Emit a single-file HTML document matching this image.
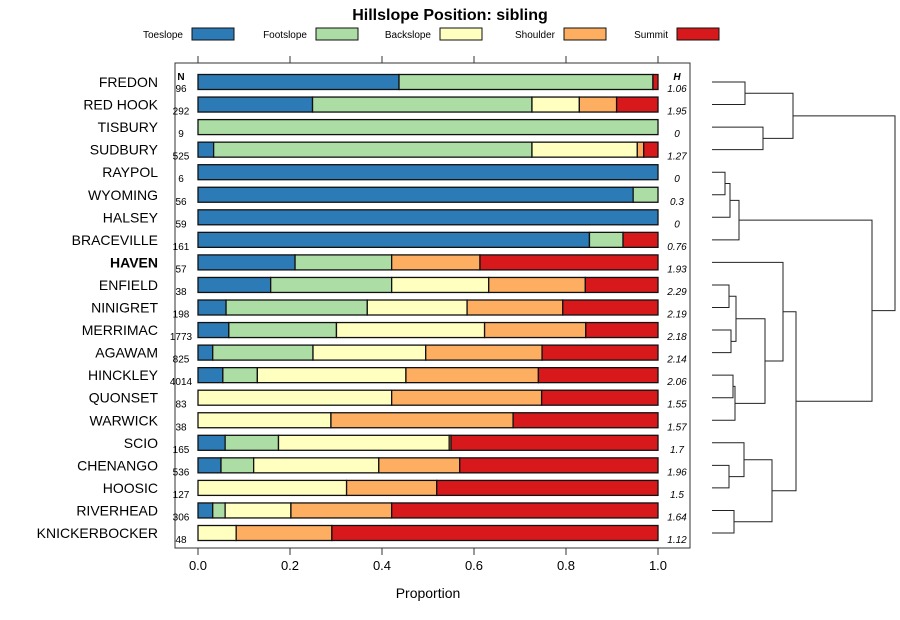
<!DOCTYPE html>
<html><head><meta charset="utf-8"><style>
body{margin:0;background:#fff;}
svg{display:block;font-family:"Liberation Sans",sans-serif;}
</style></head><body>
<svg id="c" width="900" height="620" xmlns="http://www.w3.org/2000/svg">
<text x="450" y="20" text-anchor="middle" font-size="16" font-weight="bold">Hillslope Position: sibling</text>
<g id="legend"></g>
<rect x="175" y="63" width="515" height="485" fill="none" stroke="#333" stroke-width="1"/>
<g id="bars"></g>
<g id="axis"></g>
<text x="428" y="598" text-anchor="middle" font-size="14">Proportion</text>
<text x="181" y="80" text-anchor="middle" font-size="10" font-weight="bold">N</text>
<text x="677" y="80" text-anchor="middle" font-size="10" font-weight="bold" font-style="italic">H</text>
<g id="dend"></g>
</svg>
<script>
const series = ["Toeslope","Footslope","Backslope","Shoulder","Summit"];
const colors = ["#2C7BB6","#ABDDA4","#FFFFBF","#FDAE61","#D7191C"];
const names = ["FREDON","RED HOOK","TISBURY","SUDBURY","RAYPOL","WYOMING","HALSEY","BRACEVILLE","HAVEN","ENFIELD","NINIGRET","MERRIMAC","AGAWAM","HINCKLEY","QUONSET","WARWICK","SCIO","CHENANGO","HOOSIC","RIVERHEAD","KNICKERBOCKER"];
const nVals = [96,292,9,525,6,56,59,161,57,38,198,1773,825,4014,83,38,165,536,127,306,48];
const hVals = ["1.06","1.95","0","1.27","0","0.3","0","0.76","1.93","2.29","2.19","2.18","2.14","2.06","1.55","1.57","1.7","1.96","1.5","1.64","1.12"];
const toeslope = [0.437,0.249,0,0.034,1,0.946,1,0.851,0.211,0.158,0.061,0.067,0.032,0.054,0,0,0.059,0.05,0,0.032,0];
const footslope = [0.552,0.477,1,0.692,0,0.054,0,0.073,0.21,0.263,0.307,0.234,0.218,0.075,0,0,0.116,0.071,0,0.027,0];
const backslope = [0,0.103,0,0.229,0,0,0,0,0,0.211,0.217,0.322,0.245,0.323,0.421,0.289,0.371,0.272,0.323,0.143,0.083];
const shoulder = [0,0.081,0,0.014,0,0,0,0,0.192,0.21,0.208,0.22,0.253,0.288,0.326,0.396,0.004,0.176,0.196,0.219,0.208];
const summit = [0.011,0.09,0,0.031,0,0,0,0.076,0.387,0.158,0.207,0.157,0.252,0.26,0.253,0.315,0.45,0.431,0.481,0.579,0.709];
const ticks = [0,0.2,0.4,0.6,0.8,1.0];
const tickLabels = ["0.0","0.2","0.4","0.6","0.8","1.0"];
// dendrogram merges: [left, right, height] ; leaf ids 0..20, cluster ids start at 21
const merges = [[0,1,0.33],[2,3,0.51],[21,22,0.81],[4,5,0.13],[24,6,0.18],[25,7,0.27],[9,10,0.17],[11,12,0.19],[27,28,0.24],[13,14,0.21],[30,15,0.23],[29,31,0.53],[8,32,0.71],[17,18,0.17],[16,34,0.32],[19,20,0.22],[35,36,0.60],[33,37,0.84],[26,38,1.60],[23,39,1.83]];

const NS="http://www.w3.org/2000/svg";
function el(tag,attrs,parent){const e=document.createElementNS(NS,tag);for(const k in attrs)e.setAttribute(k,attrs[k]);parent.appendChild(e);return e;}
const x = v => 198 + v*460;
const y = i => 82 + i*22.55;
const dx = h => 712 + h*100;
const bars=document.getElementById('bars');
const data=[toeslope,footslope,backslope,shoulder,summit];
names.forEach((nm,i)=>{
  const t=el('text',{x:158,y:y(i)+5,'text-anchor':'end','font-size':14,'font-weight':nm==="HAVEN"?'bold':'normal'},bars);
  t.textContent=nm;
  
  
  const n=el('text',{x:181,y:y(i)+10,'text-anchor':'middle','font-size':10},bars);
  n.textContent=nVals[i];
  
  
  const h=el('text',{x:677,y:y(i)+10,'text-anchor':'middle','font-size':10,'font-style':'italic'},bars);
  h.textContent=hVals[i];
  
  
  let cum=0;
  data.forEach((arr,s)=>{
    const v=arr[i]; if(v<=0){return;}
    const r=el('rect',{x:x(cum),y:y(i)-7.5,width:x(cum+v)-x(cum),height:15,fill:colors[s],stroke:'#111','stroke-width':1.3},bars);
    
    
    cum+=v;
  });
});
const ax=document.getElementById('axis');
ticks.forEach((t,i)=>{
  el('line',{x1:x(t),x2:x(t),y1:548,y2:555,stroke:'#333'},ax);
  el('line',{x1:x(t),x2:x(t),y1:56,y2:63,stroke:'#333'},ax);
  const tl=el('text',{x:x(t),y:570,'text-anchor':'middle','font-size':13},ax);
  tl.textContent=tickLabels[i];
  
  
});
const lg=document.getElementById('legend');
const lx=[192,316,440,564,677];
series.forEach((s,i)=>{
  const t=el('text',{x:lx[i]-9,y:38,'text-anchor':'end','font-size':10},lg);
  t.textContent=s;
  
  
  const r=el('rect',{x:lx[i],y:28,width:42,height:12,fill:colors[i],stroke:'#111'},lg);
  
  
});
const dg=document.getElementById('dend');
const pos={};
names.forEach((n,i)=>{pos[i]={y:y(i),h:0};});
merges.forEach((m,k)=>{
  const a=pos[m[0]],b=pos[m[1]],X=dx(m[2]);
  const p=el('path',{d:`M${dx(a.h)},${a.y}H${X}V${b.y}H${dx(b.h)}`,fill:'none',stroke:'#222','stroke-width':1},dg);
  
  
  pos[21+k]={y:(a.y+b.y)/2,h:m[2]};
});
</script>
</body></html>
